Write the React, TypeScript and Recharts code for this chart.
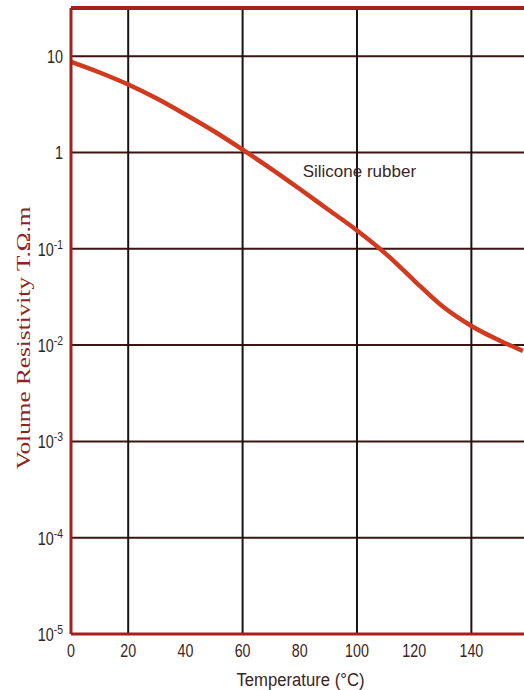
import React from 'react';
import { LineChart, Line, XAxis, YAxis, ReferenceLine, ReferenceDot, Label } from 'recharts';

const temperatures = [0, 10, 20, 30, 40, 50, 60, 70, 80, 90, 100, 110, 120, 130, 140, 150, 158];
const resistivity = [8.71, 6.76, 5.07, 3.63, 2.48, 1.66, 1.07, 0.676, 0.417, 0.254, 0.155, 0.0891, 0.0468, 0.0251, 0.0158, 0.0111, 0.0087];
const xTicks = [0, 20, 40, 60, 80, 100, 120, 140];
const xGrid = [20, 60, 100, 140];
const yTicks = [1e-5, 1e-4, 1e-3, 1e-2, 1e-1, 1, 10];
const yTickExp = ['-5', '-4', '-3', '-2', '-1', '', ''];
const yTickBase = ['10', '10', '10', '10', '10', '1', '10'];
const seriesName = 'Silicone rubber';
const xTitle = 'Temperature (°C)';
const yTitle = 'Volume Resistivity T.Ω.m';

const data = temperatures.map((t, i) => ({ t, r: resistivity[i] }));

const FONT = "'Liberation Sans', Arial, sans-serif";
const RED = '#a3201c';
const GRID_H = '#3a1512';
const GRID_V = '#1c1414';
const TOP = Math.pow(10, 1.5);

const YTick = (props: any) => {
  const { x, y, payload } = props;
  const idx = yTicks.indexOf(payload.value);
  const base = yTickBase[idx];
  const exp = yTickExp[idx];
  return (
    <g transform={`translate(${x},${y + 7}) scale(0.8,1)`}>
      <text x={0} y={0} textAnchor="end" fontFamily={FONT} fontSize={18} fill="#2e2626">
        {base}
        {exp ? <tspan dy={-7} fontSize={13}>{exp}</tspan> : null}
      </text>
    </g>
  );
};

const XTick = (props: any) => {
  const { x, y, payload } = props;
  return (
    <g transform={`translate(${x},${y + 15}) scale(0.75,1)`}>
      <text x={0} y={0} textAnchor="middle" fontFamily={FONT} fontSize={19} fill="#3a2424">
        {payload.value}
      </text>
    </g>
  );
};

const XTitle = (props: any) => {
  const { viewBox } = props;
  const cx = viewBox.x + viewBox.width / 2 + 3;
  return (
    <text x={cx} y={viewBox.y + 52} textAnchor="middle" fontFamily={FONT} fontSize={18} fill="#3a2424" textLength={128} lengthAdjust="spacingAndGlyphs">
      {xTitle}
    </text>
  );
};

const YTitle = () => {
  return (
    <text
      x={0}
      y={0}
      transform={`translate(23,338) rotate(-90)`}
      textAnchor="middle"
      dominantBaseline="central"
      fontFamily="'Liberation Serif', 'Times New Roman', serif"
      fontSize={19}
      fill="#8b2525"
      textLength={263}
      lengthAdjust="spacingAndGlyphs"
    >
      {yTitle}
    </text>
  );
};

export default function App() {
  return (
    <div style={{ position: 'absolute', left: 0, top: 0, width: 524, height: 690, background: '#fff' }}>
      <LineChart width={524} height={690} data={data} margin={{ top: 8, right: 0, bottom: 0, left: 0 }}>
        <XAxis
          dataKey="t"
          type="number"
          domain={[0, 158.4]}
          ticks={xTicks}
          tick={<XTick />}
          tickLine={false}
          axisLine={{ stroke: RED, strokeWidth: 3 }}
          height={56}
          allowDataOverflow
        >
          <Label content={<XTitle />} />
        </XAxis>
        <YAxis
          type="number"
          scale="log"
          domain={[1e-5, TOP]}
          ticks={yTicks}
          tick={<YTick />}
          tickLine={false}
          axisLine={{ stroke: RED, strokeWidth: 3 }}
          width={71}
          allowDataOverflow
        >
          <Label content={<YTitle />} />
        </YAxis>
        {yTicks.slice(1).map((v) => (
          <ReferenceLine key={'h' + v} y={v} stroke={GRID_H} strokeWidth={2} />
        ))}
        {xGrid.map((v) => (
          <ReferenceLine key={'v' + v} x={v} stroke={GRID_V} strokeWidth={2} />
        ))}
        <ReferenceLine y={TOP} stroke={RED} strokeWidth={4} />
        <Line
          type="monotone"
          dataKey="r"
          stroke="#d23a1f"
          strokeWidth={4.5}
          dot={false}
          isAnimationActive={false}
        />
        <ReferenceDot
          x={81}
          y={0.65}
          r={0}
          fill="none"
          stroke="none"
          label={{ value: seriesName, position: 'right', offset: 0, style: { fontFamily: FONT, fontSize: 17, fill: '#3a2626' } }}
        />
      </LineChart>
    </div>
  );
}
